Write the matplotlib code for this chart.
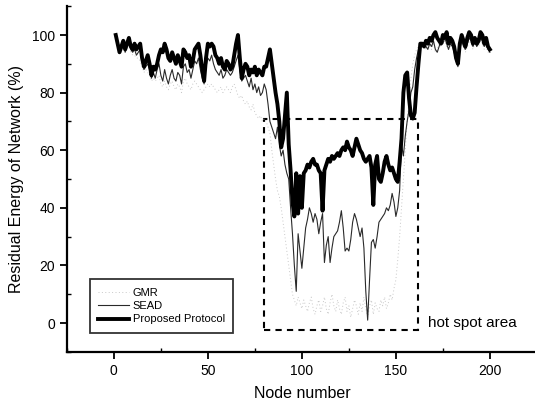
import matplotlib
matplotlib.use("Agg")
import matplotlib.pyplot as plt
from matplotlib.patches import Rectangle
from matplotlib.ticker import MultipleLocator
import numpy as np

plt.rcParams['font.family'] = ['Liberation Sans', 'DejaVu Sans']

nodes = list(range(1, 201))

proposed = [
    100, 97, 94, 96, 98, 95, 97, 99, 96, 95,
    97, 95, 96, 97, 92, 89, 91, 93, 90, 86,
    89, 88, 90, 93, 95, 94, 97, 95, 92, 91,
    94, 92, 90, 93, 91, 89, 95, 94, 92, 93,
    89, 91, 95, 96, 97, 93, 88, 84, 92, 97,
    96, 97, 96, 93, 92, 90, 92, 89, 88, 91,
    90, 88, 89, 93, 97, 100, 92, 85, 88, 90,
    89, 86, 88, 87, 89, 86, 88, 87, 86, 89,
    89, 92, 95, 90, 85, 80, 76, 70, 61, 64,
    72, 80, 62, 53, 42, 37, 52, 38, 51, 40,
    52, 53, 55, 54, 56, 57, 55, 55, 53, 52,
    39, 53, 55, 57, 56, 58, 57, 58, 59, 58,
    60, 61, 60, 63, 61, 60, 58, 61, 64, 62,
    60, 59, 57, 56, 57, 58, 54, 41, 55, 58,
    50, 49, 52, 56, 58, 55, 53, 54, 52, 50,
    49, 56, 64, 80, 86, 87, 78, 72, 71, 73,
    82, 90, 97, 97, 96, 98, 97, 99, 98, 100,
    101, 99, 98, 97, 100, 99, 101, 97, 99, 98,
    96, 92, 90, 97, 100, 98, 96, 99, 101, 100,
    97, 99, 97, 98, 101, 100, 97, 99, 96, 95,
]

sead = [
    99, 96, 94, 95, 97, 94, 96, 98, 95, 94,
    95, 93, 94, 95, 91, 88, 89, 90, 88, 85,
    87, 85, 88, 90, 86, 84, 88, 85, 83, 86,
    88, 85, 84, 87, 86, 83, 89, 90, 87, 88,
    85, 88, 91, 90, 92, 88, 85, 83, 89, 92,
    91, 93, 90, 88, 87, 86, 88, 85, 86, 88,
    87, 86, 87, 89, 91, 93, 88, 84, 85, 86,
    84, 82, 85, 81, 83, 80, 82, 79, 80, 83,
    81, 76, 70, 68, 66, 64, 68, 62, 58, 60,
    55, 52, 50, 40, 31, 20, 11, 31, 25, 19,
    26, 33, 36, 40, 38, 35, 38, 36, 31, 35,
    38, 21, 27, 30, 21, 26, 30, 31, 32, 35,
    39, 33, 25, 26, 25, 29, 35, 38, 36, 33,
    30, 33, 26, 11, 1, 15, 28, 29, 26, 30,
    35, 36, 37, 38, 40, 39, 41, 45, 42, 37,
    40, 46, 62, 58, 65, 70, 74, 80, 82, 88,
    92, 95, 96, 96, 97, 96, 95, 97, 96, 98,
    95, 94, 96, 98, 97, 99, 97, 95, 97, 96,
    94, 91, 89, 95, 98, 96, 95, 97, 99, 98,
    96, 98, 96, 97, 99, 98, 96, 97, 95, 94,
]

gmr = [
    99, 97, 95, 96, 96, 94, 95, 97, 94, 93,
    93, 92, 92, 91, 89, 87, 88, 87, 86, 84,
    85, 84, 85, 86, 83, 82, 84, 82, 81, 83,
    84, 82, 81, 83, 82, 80, 84, 85, 83, 82,
    81, 83, 84, 83, 82, 81, 80, 81, 82, 83,
    82, 83, 82, 81, 80, 81, 82, 80, 81, 82,
    81, 80, 82, 83, 81, 79, 78, 79, 77, 76,
    77, 75, 74, 76, 73, 72, 71, 72, 70, 71,
    70, 68, 66, 60, 55, 50, 46, 44, 40, 35,
    30, 25, 20, 15, 10, 8, 6, 9, 7, 5,
    8, 6, 4, 7, 9, 5, 3, 6, 8, 4,
    6, 9, 5, 3, 7, 10, 6, 4, 8, 5,
    3, 7, 9, 4, 6, 2, 5, 8, 6, 3,
    7, 4, 9, 5, 2, 6, 8, 3, 7, 5,
    4, 8, 6, 9, 5, 7, 10, 8, 12, 15,
    22, 30, 40, 50, 60, 70, 78, 85, 90, 93,
    95, 96, 97, 96, 97, 95, 96, 97, 95, 97,
    94, 95, 97, 96, 97, 98, 96, 95, 96, 97,
    95, 93, 92, 96, 97, 96, 94, 96, 98, 97,
    95, 97, 96, 96, 98, 97, 95, 96, 94, 94,
]

series_labels = ["GMR", "SEAD", "Proposed Protocol"]
hot_spot = (80, 162, -2.5, 71)  # x0, x1, y0, y1 in data units

fig = plt.figure(figsize=(5.35, 4.03), dpi=100)
ax = fig.add_axes([0.125, 0.127, 0.8785, 0.8576])

ax.plot(nodes, gmr, color="#c8c8c8", lw=0.7, ls=(0, (1, 2.5)), label=series_labels[0])
ax.plot(nodes, sead, color="#2a2a2a", lw=0.8, label=series_labels[1])
ax.plot(nodes, proposed, color="black", lw=2.8, label=series_labels[2])

x0, x1, y0, y1 = hot_spot
ax.add_patch(Rectangle((x0, y0), x1 - x0, y1 - y0, fill=False, ec="black",
                       lw=1.5, ls=(0, (3, 2.5))))
ax.text(x1 + 5, 0, "hot spot area", fontsize=11, va="center", ha="left")

ax.set_xlim(-25, 225)
ax.set_ylim(-10, 110)
ax.xaxis.set_major_locator(MultipleLocator(50))
ax.xaxis.set_minor_locator(MultipleLocator(25))
ax.yaxis.set_major_locator(MultipleLocator(20))
ax.yaxis.set_minor_locator(MultipleLocator(10))
ax.set_xticks([0, 50, 100, 150, 200])
ax.set_yticks([0, 20, 40, 60, 80, 100])
ax.tick_params(which="major", direction="out", length=5, width=1.3, labelsize=10)
ax.tick_params(which="minor", direction="in", length=3, width=1.0)

for s in ["top", "right"]:
    ax.spines[s].set_visible(False)
for s in ["left", "bottom"]:
    ax.spines[s].set_linewidth(1.6)

ax.set_xlabel("Node number", fontsize=11.5, labelpad=6)
ax.set_ylabel("Residual Energy of Network (%)", fontsize=11.5, labelpad=6)

leg = ax.legend(loc="lower left", bbox_to_anchor=(0.049, 0.055), borderaxespad=0,
                fontsize=8, frameon=True, fancybox=False, handlelength=2.8,
                labelspacing=0.3, handletextpad=0.3, borderpad=0.75)
leg.get_frame().set_edgecolor("black")
leg.get_frame().set_linewidth(1.3)

fig.savefig("out.png", dpi=100)
